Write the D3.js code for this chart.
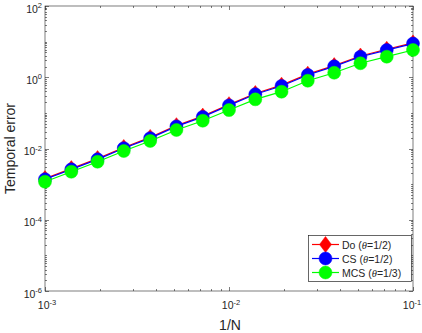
<!DOCTYPE html>
<html>
<head>
<meta charset="utf-8">
<script src="https://cdn.jsdelivr.net/npm/d3@7"></script>
<style>
  body { margin: 0; background: #fff; }
  svg { display: block; font-family: "Liberation Sans", Arial, sans-serif; }
</style>
</head>
<body>
<svg id="chart" width="422" height="333"></svg>
<script>
// 1/N values (15 points, 7 per decade)
const invN = [0.001, 0.00139, 0.00193, 0.00268, 0.00373, 0.00518, 0.0072, 0.01,
  0.0139, 0.0193, 0.0268, 0.0373, 0.0518, 0.072, 0.1];

const errDo = [0.00143, 0.00273, 0.00521, 0.0107, 0.0205, 0.0438, 0.0811, 0.170,
  0.350, 0.60, 1.22, 2.12, 3.95, 6.1, 9.2];
const errCS = [0.00137, 0.0026, 0.00496, 0.0102, 0.0195, 0.0417, 0.0772, 0.162,
  0.333, 0.57, 1.16, 2.02, 3.76, 5.8, 8.8];
const errMCS = [0.00117, 0.00223, 0.00426, 0.0085, 0.0163, 0.0331, 0.0603, 0.120,
  0.240, 0.393, 0.80, 1.34, 2.47, 3.78, 5.82];

const series = [
  { name: "Do", theta: "1/2", values: errDo, color: "#ff0000", marker: "diamond" },
  { name: "CS", theta: "1/2", values: errCS, color: "#0000ff", marker: "circle" },
  { name: "MCS", theta: "1/3", values: errMCS, color: "#00ff00", marker: "circle" }
];

const xTicks = [1e-3, 1e-2, 1e-1];
const yTicks = [1e-6, 1e-4, 1e-2, 1e0, 1e2];

const margin = { left: 45, top: 6, right: 9, bottom: 42 };
const width = 422, height = 333;

const svg = d3.select("#chart");

const x = d3.scaleLog().domain([1e-3, 1e-1]).range([margin.left, width - margin.right]);
const y = d3.scaleLog().domain([1e-6, 1e2]).range([height - margin.bottom, margin.top]);

const x0 = x.range()[0], x1 = x.range()[1];
const y0 = y.range()[0], y1 = y.range()[1];

// minor ticks
function minorTicks(domain) {
  const out = [];
  const a = Math.round(Math.log10(domain[0])), b = Math.round(Math.log10(domain[1]));
  for (let e = a; e < b; e++) {
    for (let m = 2; m <= 9; m++) out.push(m * Math.pow(10, e));
  }
  return out;
}
function yMinor() {
  const out = [];
  for (let e = -6; e < 2; e++) {
    for (let m = 1; m <= 9; m++) {
      const v = m * Math.pow(10, e);
      if (!yTicks.includes(v)) out.push(v);
    }
  }
  return out;
}

const axisColor = "#262626";
const ticks = svg.append("g").attr("stroke", axisColor).attr("stroke-width", 0.6);

xTicks.forEach(v => {
  const px = Math.round(x(v)) + 0.5;
  ticks.append("line").attr("x1", px).attr("x2", px).attr("y1", y0).attr("y2", y0 - 4);
  ticks.append("line").attr("x1", px).attr("x2", px).attr("y1", y1).attr("y2", y1 + 4);
});
minorTicks(x.domain()).forEach(v => {
  const px = Math.round(x(v)) + 0.5;
  ticks.append("line").attr("x1", px).attr("x2", px).attr("y1", y0).attr("y2", y0 - 2);
  ticks.append("line").attr("x1", px).attr("x2", px).attr("y1", y1).attr("y2", y1 + 2);
});
yTicks.forEach(v => {
  const py = Math.round(y(v)) + 0.5;
  ticks.append("line").attr("x1", x0).attr("x2", x0 + 4).attr("y1", py).attr("y2", py);
  ticks.append("line").attr("x1", x1).attr("x2", x1 - 4).attr("y1", py).attr("y2", py);
});
yMinor().forEach(v => {
  const py = Math.round(y(v)) + 0.5;
  ticks.append("line").attr("x1", x0).attr("x2", x0 + 2).attr("y1", py).attr("y2", py);
  ticks.append("line").attr("x1", x1).attr("x2", x1 - 2).attr("y1", py).attr("y2", py);
});

// box
svg.append("rect")
  .attr("x", x0).attr("y", y1)
  .attr("width", x1 - x0).attr("height", y0 - y1)
  .attr("fill", "none").attr("stroke", axisColor).attr("stroke-width", 0.6);

// tick labels
function powerLabel(g, px, py, exp, anchor) {
  const t = g.append("text").attr("x", px).attr("y", py)
    .attr("text-anchor", anchor).attr("font-size", 10.5).attr("fill", axisColor);
  t.append("tspan").text("10");
  t.append("tspan").attr("font-size", 7.5).attr("dy", -4.5).text(exp);
}
const labels = svg.append("g");
xTicks.forEach((v, i) => powerLabel(labels, x(v) + (i === xTicks.length - 1 ? -1 : 2), y0 + 18,
  Math.round(Math.log10(v)), "middle"));
yTicks.forEach(v => powerLabel(labels, x0 - 3, y(v) + 6.5, Math.round(Math.log10(v)), "end"));

// axis titles
svg.append("text").attr("x", (x0 + x1) / 2 + 1).attr("y", 330)
  .attr("text-anchor", "middle").attr("font-size", 14).attr("fill", axisColor).text("1/N");
svg.append("text").attr("transform", `translate(15,${(y0 + y1) / 2}) rotate(-90)`)
  .attr("text-anchor", "middle").attr("font-size", 14).attr("fill", axisColor).text("Temporal error");

// markers
function drawMarker(g, cx, cy, s) {
  if (s.marker === "diamond") {
    g.append("path")
      .attr("d", `M${cx},${cy - 8}L${cx + 6},${cy}L${cx},${cy + 8}L${cx - 6},${cy}Z`)
      .attr("fill", s.color).attr("stroke", s.color).attr("stroke-width", 0.5);
  } else {
    g.append("circle").attr("cx", cx).attr("cy", cy).attr("r", 6.5)
      .attr("fill", s.color).attr("stroke", s.color).attr("stroke-width", 0.5);
  }
}

const line = d3.line().x(d => x(d[0])).y(d => y(d[1]));

series.forEach(s => {
  const g = svg.append("g");
  const pts = invN.map((v, i) => [v, s.values[i]]);
  g.append("path").attr("d", line(pts)).attr("fill", "none")
    .attr("stroke", s.color).attr("stroke-width", 1.2);
  pts.forEach(p => drawMarker(g, x(p[0]), y(p[1]), s));
});

// legend
const lg = svg.append("g");
const lx = 308, ly = 235, lw = 103, lh = 46;
lg.append("rect").attr("x", lx + 0.5).attr("y", ly + 0.5).attr("width", lw).attr("height", lh)
  .attr("fill", "#fff").attr("stroke", axisColor).attr("stroke-width", 0.7);
series.forEach((s, i) => {
  const cy = ly + 9.5 + i * 14;
  lg.append("line").attr("x1", lx + 4).attr("x2", lx + 31).attr("y1", cy).attr("y2", cy)
    .attr("stroke", s.color).attr("stroke-width", 1.2);
  drawMarker(lg, lx + 17.5, cy, s);
  const t = lg.append("text").attr("x", lx + 34).attr("y", cy + 4)
    .attr("font-size", 10.5).attr("fill", axisColor);
  t.append("tspan").text(s.name + " (");
  t.append("tspan").attr("font-style", "italic").attr("font-family", "'Liberation Serif', serif").text("θ");
  t.append("tspan").text("=" + s.theta + ")");
});
</script>
</body>
</html>
